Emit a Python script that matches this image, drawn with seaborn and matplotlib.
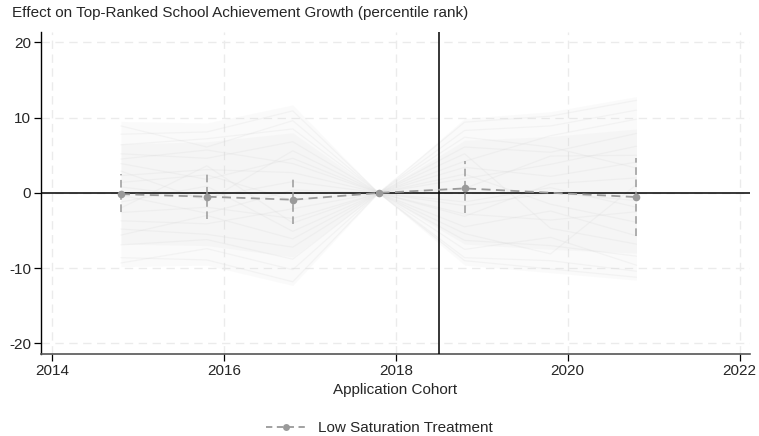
#!/usr/bin/env python3
# Event-study style chart: low saturation treatment vs placebo draws

import pandas as pd
import seaborn as sns
from matplotlib import pyplot as plt
from matplotlib.lines import Line2D

# -------------------------------------------------------------------
# DATA
# -------------------------------------------------------------------

cohorts = [2014.8, 2015.8, 2016.8, 2017.8, 2018.8, 2020.8]
estimate = [-0.16, -0.5, -0.9, 0.0, 0.6, -0.55]
ci_low = [-2.5, -3.5, -4.1, 0.0, -2.6, -5.7]
ci_high = [2.45, 2.6, 2.1, 0.0, 4.3, 4.65]

placebo_cohorts = [2014.8, 2015.8, 2016.8, 2017.8, 2018.8, 2019.8, 2020.8]
placebo_draws = [
    [7.8, 8.1, 10.9, 0, 9.4, 10.2, 12.3],
    [-8.6, -8.9, -11.8, 0, -9.0, -10.1, -11.2],
    [5.2, 4.6, 6.8, 0, 6.1, 5.4, 7.9],
    [-4.8, -5.5, -7.2, 0, -6.3, -7.0, -8.4],
    [2.3, 3.1, 2.7, 0, 3.4, 2.2, 4.1],
    [-2.6, -1.9, -3.4, 0, -2.8, -3.6, -2.5],
    [0.8, -0.6, 1.5, 0, -1.2, 0.7, -1.9],
    [6.4, 7.2, 8.5, 0, 4.2, 7.6, 9.8],
    [-6.9, -6.2, -8.8, 0, -7.5, -5.9, -9.6],
    [3.9, 1.8, 4.6, 0, 7.4, 6.1, 3.3],
    [-3.7, -4.1, -2.1, 0, -4.5, -2.4, -5.7],
    [1.4, 2.4, -1.0, 0, 1.9, 3.8, 6.2],
    [-1.2, 0.9, -5.1, 0, 2.5, -1.5, -3.9],
    [4.5, 5.7, 3.9, 0, -3.1, 1.2, 2.0],
    [-5.6, -3.0, -6.1, 0, 5.2, -4.7, -6.8],
    [-0.3, -2.7, 0.4, 0, -5.4, -8.1, 1.1],
    [8.9, 6.1, 9.6, 0, 8.3, 8.9, 11.0],
    [-9.3, -7.4, -10.2, 0, -8.6, -9.0, -10.4],
    [2.9, -1.1, 5.6, 0, 0.6, 4.9, 5.0],
    [-2.0, 3.6, -4.0, 0, -1.7, 0.0, -1.0],
]
# rough envelopes of the placebo cloud (outer and dense core)
placebo_hi = [9.5, 9.3, 11.7, 0, 9.9, 10.8, 12.8]
placebo_lo = [-9.8, -9.6, -12.3, 0, -9.6, -10.6, -11.6]
core_hi = [6.5, 6.8, 8.0, 0, 7.0, 7.5, 8.5]
core_lo = [-6.8, -7.0, -8.5, 0, -6.8, -7.5, -8.0]

x_ticks = [2014, 2016, 2018, 2020, 2022]
y_ticks = [-20, -10, 0, 10, 20]
treat_year = 2018.5

# -------------------------------------------------------------------
# PLOT
# -------------------------------------------------------------------

sns.set_theme(style="white")
plt.rcParams["font.family"] = ["Liberation Sans", "DejaVu Sans"]
plt.rcParams["axes.unicode_minus"] = False

fig = plt.figure(figsize=(7.59, 4.36), dpi=100)
ax = fig.add_axes([0.054, 0.188, 0.934, 0.739])

grey = "#9a9a9a"

# placebo cloud: soft bands plus individual draws
ax.fill_between(placebo_cohorts, placebo_lo, placebo_hi,
                color="#c4c4c4", alpha=0.07, linewidth=0)
ax.fill_between(placebo_cohorts, core_lo, core_hi,
                color="#c4c4c4", alpha=0.08, linewidth=0)
rows = []
for i, draw in enumerate(placebo_draws):
    for c, v in zip(placebo_cohorts, draw):
        rows.append({"draw": i, "cohort": c, "value": v})
df_placebo = pd.DataFrame(rows)
sns.lineplot(data=df_placebo, x="cohort", y="value", units="draw",
             estimator=None, color="#d2d2d2", alpha=0.18, linewidth=0.9,
             ax=ax, legend=False)

# reference lines
ax.axhline(0, color="black", linewidth=1.1, zorder=3)
ax.axvline(treat_year, color="black", linewidth=1.1, zorder=3)

# confidence intervals
ax.vlines(cohorts, ci_low, ci_high, colors=grey, linestyles=(0, (5, 3)),
          linewidth=1.1, zorder=4)

# point estimates
df_est = pd.DataFrame({"cohort": cohorts, "estimate": estimate})
sns.lineplot(data=df_est, x="cohort", y="estimate", color=grey,
             linestyle=(0, (5, 3)), linewidth=1.3, marker="o",
             markersize=5.5, markeredgewidth=0, ax=ax, zorder=5,
             legend=False)

# axes styling
ax.set_xlim(2013.87, 2022.12)
ax.set_ylim(-21.4, 21.4)
ax.set_xticks(x_ticks)
ax.set_yticks(y_ticks)
ax.grid(True, color="#ebebeb", linestyle=(0, (6, 4)), linewidth=1.0)
ax.set_axisbelow(True)
for side in ("top", "right"):
    ax.spines[side].set_visible(False)
ax.spines["left"].set_color("black")
ax.spines["bottom"].set_color("#555555")
ax.spines["left"].set_linewidth(1.0)
ax.spines["bottom"].set_linewidth(1.2)
ax.tick_params(axis="both", which="major", direction="out", length=5,
               width=0.9, color="black", labelsize=11, bottom=True, left=True,
               pad=2)
ax.set_xlabel("Application Cohort", fontsize=11, labelpad=4)
ax.set_ylabel("")

fig.text(12 / 759, 1 - 13 / 436,
         "Effect on Top-Ranked School Achievement Growth (percentile rank)",
         fontsize=11, ha="left", va="center")

handle = Line2D([], [], color=grey, linestyle=(0, (3.5, 2.5)), linewidth=1.3,
                marker="o", markersize=5, markeredgewidth=0)
fig.legend([handle], ["Low Saturation Treatment"], loc="center",
           bbox_to_anchor=(0.5, 1 - 428 / 436), frameon=False, fontsize=11,
           handlelength=2.6, handletextpad=0.8)

fig.savefig("out.png", dpi=100)
